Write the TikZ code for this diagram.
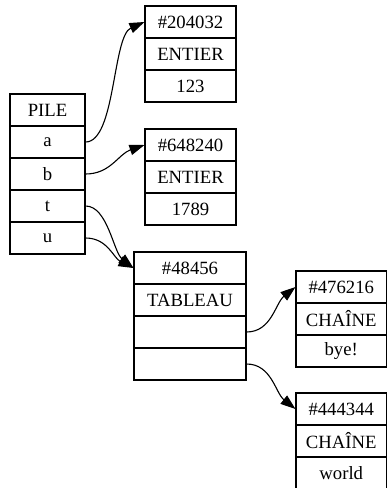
\documentclass[tikz,border=0pt]{standalone}
\usepackage{fontspec}
\setmainfont{Liberation Serif}
\usetikzlibrary{arrows.meta}
\begin{document}
\begin{tikzpicture}[x=1pt,y=-1pt,
  cell/.style={draw,line width=1.1pt,minimum height=32pt,inner sep=0pt,
    font=\fontsize{18.7}{22}\selectfont},
  pilecell/.style={cell,minimum width=75pt},
  objcell/.style={cell,minimum width=91pt},
  tabcell/.style={cell,minimum width=112pt},
  rcell/.style={cell,minimum width=90.5pt},
  ptr/.style={line width=1.1pt,-{Triangle[length=15pt,width=10.5pt]}}]
\useasboundingbox (0,0) rectangle (387,488);
% PILE
\node[pilecell] (p0) at (47.5,110) {PILE};
\node[pilecell] (pa) at (47.5,142) {a};
\node[pilecell] (pb) at (47.5,174) {b};
\node[pilecell] (pt) at (47.5,206) {t};
\node[pilecell] (pu) at (47.5,238) {u};
% #204032
\node[objcell] (e1) at (190.5,22) {\#204032};
\node[objcell] (e1b) at (190.5,54) {ENTIER};
\node[objcell] (e1c) at (190.5,86) {123};
% #648240
\node[objcell] (e2) at (190.5,145) {\#648240};
\node[objcell] (e2b) at (190.5,177) {ENTIER};
\node[objcell] (e2c) at (190.5,209) {1789};
% #48456
\node[tabcell] (t0) at (190,268) {\#48456};
\node[tabcell] (t1) at (190,300) {TABLEAU};
\node[tabcell] (t2) at (190,332) {};
\node[tabcell] (t3) at (190,364) {};
% #476216
\node[rcell] (c1) at (341.25,287) {\#476216};
\node[rcell] (c1b) at (341.25,319) {CHAÎNE};
\node[rcell] (c1c) at (341.25,351) {bye!};
% #444344
\node[rcell] (c2) at (341.25,409) {\#444344};
\node[rcell] (c2b) at (341.25,441) {CHAÎNE};
\node[rcell] (c2c) at (341.25,473) {world};
% pointers
\draw[ptr] (pa.east) .. controls +(30,0) and +(-32,14) .. (e1.west);
\draw[ptr] (pb.east) .. controls +(25,0) and +(-26,9) .. (e2.west);
\draw[ptr] (pt.east) .. controls +(22,0) and +(-20,-16) .. (t0.west);
\draw[ptr] (pu.east) .. controls +(22,0) and +(-20,-10) .. (t0.west);
\draw[ptr] (t2.east) .. controls +(25,0) and +(-20,16) .. (c1.west);
\draw[ptr] (t3.east) .. controls +(25,0) and +(-20,-16) .. (c2.west);
\end{tikzpicture}
\end{document}
